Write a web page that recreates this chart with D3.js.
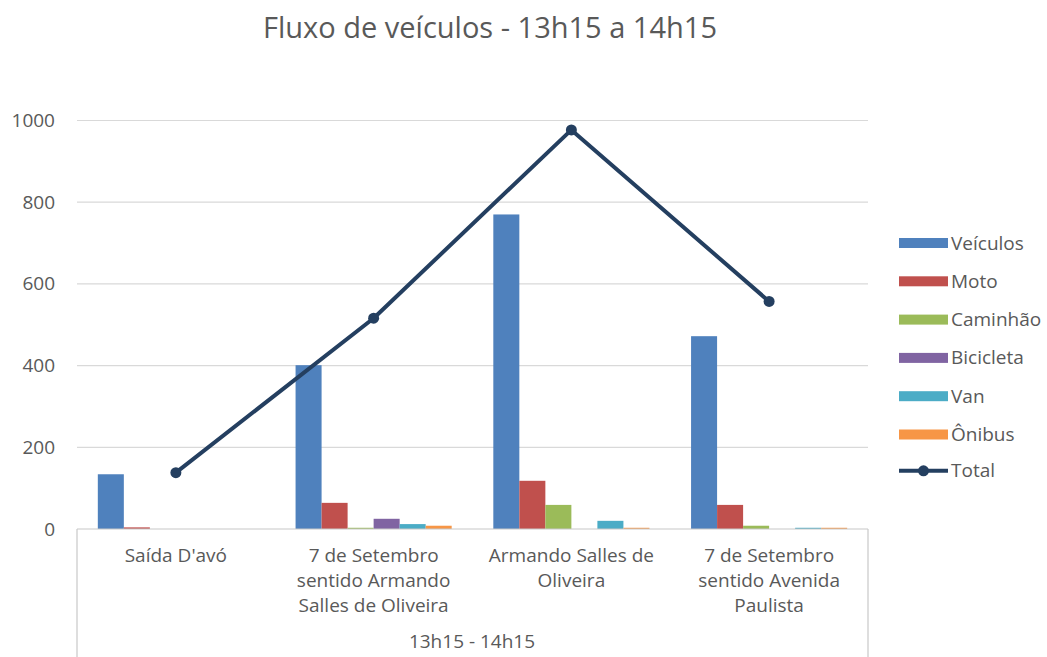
<!DOCTYPE html>
<html>
<head>
<meta charset="utf-8">
<script src="https://cdn.jsdelivr.net/npm/d3@7"></script>
<style>
  html, body { margin: 0; padding: 0; background: #fff; }
  svg { display: block; font-family: "Open Sans", "Noto Sans", sans-serif; }
</style>
</head>
<body>
<svg id="chart" width="1047" height="657"></svg>
<script>
// ---- data ----
const title = "Fluxo de veículos - 13h15 a 14h15";
const groupLabel = "13h15 - 14h15";
const categories = ["Saída D'avó", "7 de Setembro sentido Armando Salles de Oliveira", "Armando Salles de Oliveira", "7 de Setembro sentido Avenida Paulista"];
const categoryLines = [
  ["Saída D'avó"],
  ["7 de Setembro", "sentido Armando", "Salles de Oliveira"],
  ["Armando Salles de", "Oliveira"],
  ["7 de Setembro", "sentido Avenida", "Paulista"]
];
const seriesNames = ["Veículos", "Moto", "Caminhão", "Bicicleta", "Van", "Ônibus"];
const veiculos  = [134, 401, 770, 472];
const moto      = [4, 64, 118, 59];
const caminhao  = [0, 3, 59, 8];
const bicicleta = [0, 25, 0, 0];
const van       = [0, 12, 20, 3];
const onibus    = [0, 8, 3, 3];
const totalName = "Total";
const total     = [138, 516, 977, 557];
const yTicks    = [0, 200, 400, 600, 800, 1000];
const colors    = ["#4F81BD", "#C0504D", "#9BBB59", "#8064A2", "#4BACC6", "#F79646"];
const lineColor = "#243F60";

const seriesValues = [veiculos, moto, caminhao, bicicleta, van, onibus];

// ---- layout ----
const svg = d3.select("#chart");
const plot = { left: 77, right: 868, top: 120.5, bottom: 529 };
const textColor = "#595959";
const fs = 19;

const x0 = d3.scaleBand().domain(categories).range([plot.left, plot.right]).padding(0);
const x1 = d3.scaleBand().domain(seriesNames).range([0, x0.bandwidth()]).paddingInner(0).paddingOuter(0.8);
const y = d3.scaleLinear().domain([0, 1000]).range([plot.bottom, plot.top]);

// title
svg.append("text")
  .attr("x", 490).attr("y", 38)
  .attr("text-anchor", "middle")
  .attr("font-size", 29)
  .attr("fill", textColor)
  .text(title);

// gridlines
svg.append("g").selectAll("line")
  .data(yTicks.filter(d => d > 0))
  .join("line")
  .attr("x1", plot.left).attr("x2", plot.right)
  .attr("y1", d => y(d)).attr("y2", d => y(d))
  .attr("stroke", "#d9d9d9").attr("stroke-width", 1.2);

// y axis labels
const yAxis = d3.axisLeft(y).tickValues(yTicks).tickFormat(d3.format("d")).tickSize(0).tickPadding(0);
const yg = svg.append("g").attr("transform", "translate(55,0)").call(yAxis);
yg.select(".domain").remove();
yg.selectAll("text").attr("font-size", fs).attr("fill", textColor).attr("font-family", '"Open Sans", sans-serif');

// bars
const bars = svg.append("g");
seriesValues.forEach((vals, si) => {
  bars.append("g").selectAll("rect")
    .data(vals.map((v, ci) => ({ v, c: categories[ci] })))
    .join("rect")
    .attr("x", d => x0(d.c) + x1(seriesNames[si]))
    .attr("width", x1.bandwidth())
    .attr("y", d => y(d.v))
    .attr("height", d => y(0) - y(d.v))
    .attr("fill", colors[si]);
});

// x axis line and outer ticks
const axisColor = "#c8c8c8";
svg.append("line").attr("x1", plot.left).attr("x2", plot.right)
  .attr("y1", y(0)).attr("y2", y(0)).attr("stroke", axisColor).attr("stroke-width", 1.2);
[plot.left, plot.right].forEach(px => {
  svg.append("line").attr("x1", px).attr("x2", px)
    .attr("y1", y(0)).attr("y2", 657).attr("stroke", axisColor).attr("stroke-width", 1.2);
});

// category labels
const catG = svg.append("g");
categories.forEach((c, i) => {
  const cx = x0(c) + x0.bandwidth() / 2;
  const t = catG.append("text")
    .attr("text-anchor", "middle")
    .attr("font-size", fs)
    .attr("fill", textColor);
  categoryLines[i].forEach((ln, j) => {
    t.append("tspan").attr("x", cx).attr("y", 562 + j * 25).text(ln);
  });
});
svg.append("text")
  .attr("x", 472).attr("y", 648)
  .attr("text-anchor", "middle").attr("font-size", fs).attr("fill", textColor)
  .text(groupLabel);

// total line
const line = d3.line()
  .x((d, i) => x0(categories[i]) + x0.bandwidth() / 2)
  .y(d => y(d));
svg.append("path").datum(total)
  .attr("d", line).attr("fill", "none")
  .attr("stroke", lineColor).attr("stroke-width", 4).attr("stroke-linejoin", "round");
svg.append("g").selectAll("circle").data(total).join("circle")
  .attr("cx", (d, i) => x0(categories[i]) + x0.bandwidth() / 2)
  .attr("cy", d => y(d))
  .attr("r", 5.5).attr("fill", lineColor);

// legend
const leg = svg.append("g");
const legY0 = 243, legStep = 38.3;
seriesNames.forEach((n, i) => {
  const yy = legY0 + i * legStep;
  leg.append("rect").attr("x", 899).attr("y", yy - 5).attr("width", 49).attr("height", 10).attr("fill", colors[i]);
  leg.append("text").attr("x", 951).attr("y", yy + 6.5).attr("font-size", fs).attr("fill", textColor).text(n);
});
{
  const yy = legY0 + 6 * legStep - 2;
  leg.append("line").attr("x1", 899).attr("x2", 948).attr("y1", yy).attr("y2", yy)
    .attr("stroke", lineColor).attr("stroke-width", 4);
  leg.append("circle").attr("cx", 923.5).attr("cy", yy).attr("r", 5.5).attr("fill", lineColor);
  leg.append("text").attr("x", 951).attr("y", yy + 6.5).attr("font-size", fs).attr("fill", textColor).text(totalName);
}
</script>
</body>
</html>
